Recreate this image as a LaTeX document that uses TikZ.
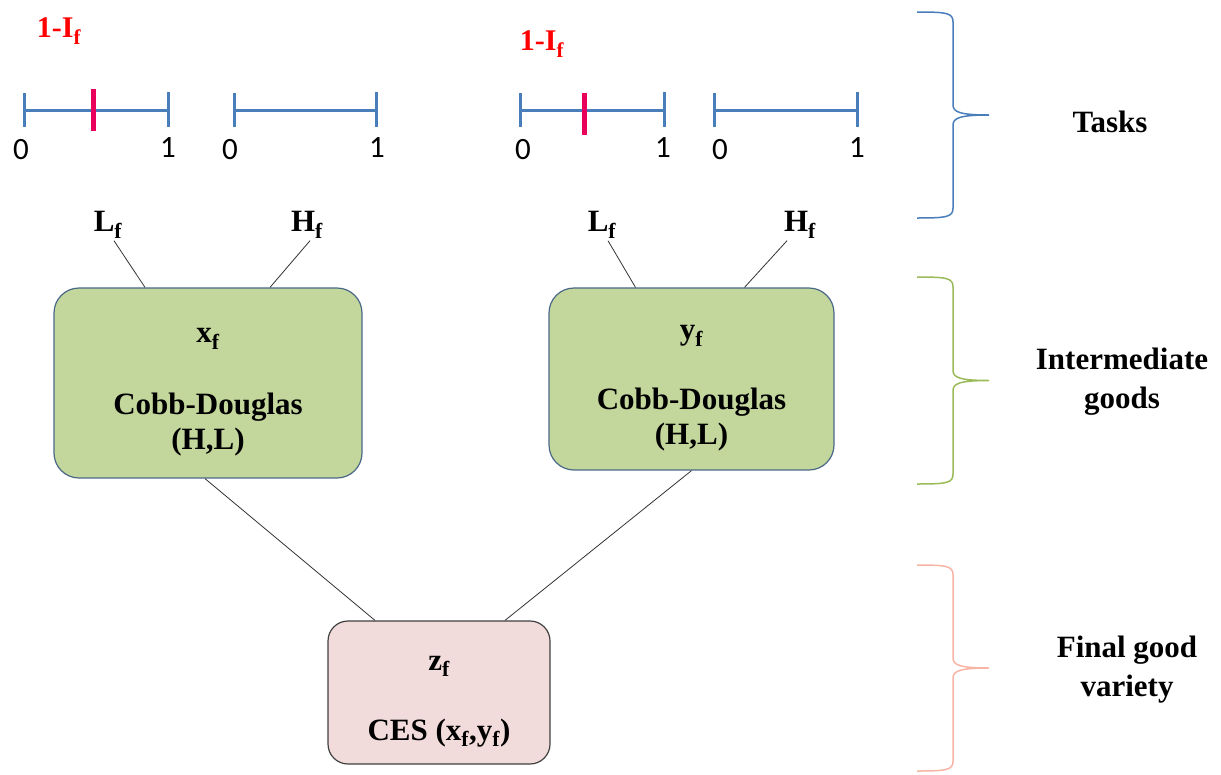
\documentclass[tikz,border=0pt]{standalone}
\usepackage{fontspec}
\setmainfont{Liberation Serif}
\newfontfamily\digitfont{Carlito}
\usetikzlibrary{positioning}
\definecolor{taskBlue}{RGB}{74,126,187}
\definecolor{cutRed}{RGB}{232,0,90}
\definecolor{boxGreen}{RGB}{195,214,155}
\definecolor{boxEdge}{RGB}{74,105,135}
\definecolor{boxPink}{RGB}{242,220,219}
\definecolor{braceGreen}{RGB}{155,187,89}
\definecolor{bracePink}{RGB}{248,180,165}

\begin{document}
\begin{tikzpicture}[x=1pt, y=-1pt, font=\bfseries\fontsize{31}{35}\selectfont]
    \tikzstyle{goodbox} = [draw=boxEdge, fill=boxGreen, rounded corners=25pt, line width=1.2pt]
    \tikzstyle{finalbox} = [draw=black!75, fill=boxPink, rounded corners=20pt, line width=1.2pt]
    \tikzstyle{boxtext} = [align=center]
    \tikzstyle{factor} = [inner sep=2pt]
    \tikzstyle{level} = [align=center, font=\bfseries\fontsize{31}{39}\selectfont]
    \tikzstyle{endpoint} = [font=\digitfont\fontsize{31}{36}\selectfont]
    \tikzstyle{share} = [text=red, font=\bfseries\fontsize{30}{34}\selectfont]
    \tikzstyle{taskline} = [draw=taskBlue, line width=3pt]
    \tikzstyle{cut} = [draw=cutRed, line width=5pt]
    \tikzstyle{line} = [draw, line width=0.8pt, black!80]

    \useasboundingbox (0,0) rectangle (1221,774);

    % task intervals
    \foreach \i/\a/\b/\za/\ob in {1/24/168/21/168, 2/234/376/230/377, 3/520/664/523/663, 4/714/857/720/857} {
        \coordinate (s\i) at (\a,110);
        \coordinate (e\i) at (\b,110);
        \path [taskline] (s\i) -- (e\i);
        \path [taskline] ([yshift=17pt]s\i) -- ([yshift=-17pt]s\i);
        \path [taskline] ([yshift=18pt]e\i) -- ([yshift=-17pt]e\i);
        \node [endpoint] (zero\i) at (\za,150) {0};
        \node [endpoint] (one\i) at (\ob,148) {1};
    }
    \coordinate (cut1) at (93,110);
    \coordinate (cut2) at (584,114);
    \path [cut] ([yshift=21pt]cut1) -- ([yshift=-21pt]cut1);
    \path [cut] ([yshift=21pt]cut2) -- ([yshift=-21pt]cut2);
    \node [share] (share1) at (59,31) {1-I\textsubscript{f}};
    \node [share] (share2) at (542,44) {1-I\textsubscript{f}};

    % intermediate goods
    \node [goodbox, minimum width=308pt, minimum height=190pt] (xbox) at (208,383) {};
    \node [goodbox, minimum width=285pt, minimum height=182pt] (ybox) at (691.5,379) {};
    \node [boxtext] (xtext) at ([yshift=-9pt]xbox.center) {x\textsubscript{f}\\[37pt]Cobb-Douglas\\(H,L)};
    \node [boxtext] (ytext) at ([yshift=-9pt]ybox.center) {y\textsubscript{f}\\[35pt]Cobb-Douglas\\(H,L)};
    \node [factor] (lx) at (108,225) {L\textsubscript{f}};
    \node [factor] (hx) at (307,225) {H\textsubscript{f}};
    \node [factor] (ly) at (602,225) {L\textsubscript{f}};
    \node [factor] (hy) at (800,225) {H\textsubscript{f}};

    % final good
    \node [finalbox, minimum width=222pt, minimum height=143pt] (zbox) at (439,692.5) {};
    \node [boxtext] (ztext) at ([yshift=-9pt]zbox.center) {z\textsubscript{f}\\[35pt]CES (x\textsubscript{f},y\textsubscript{f})};

    \path [line] ([xshift=6pt]lx.south) -- ([xshift=-63pt]xbox.north);
    \path [line] ([xshift=3pt]hx.south) -- ([xshift=62pt]xbox.north);
    \path [line] ([xshift=6pt]ly.south) -- ([xshift=-56pt]ybox.north);
    \path [line] ([xshift=-13pt]hy.south) -- ([xshift=53pt]ybox.north);
    \path [line] ([xshift=-3pt]xbox.south) -- ([xshift=-64pt]zbox.north);
    \path [line] (ybox.south) -- ([xshift=66pt]zbox.north);

    % braces and levels
    \foreach \ya/\yb/\col in {12/218/taskBlue, 277/484/braceGreen, 565/771/bracePink} {
        \pgfmathsetmacro\ym{(\ya+\yb)/2}
        \draw [\col, line width=1.5pt] (917,\ya) .. controls (947,\ya) and (953,\ya+1) .. (953,\ya+10) -- (953,\ym-10) .. controls (953,\ym-3) and (960,\ym) .. (989,\ym) .. controls (960,\ym) and (953,\ym+3) .. (953,\ym+10) -- (953,\yb-10) .. controls (953,\yb-1) and (947,\yb) .. (917,\yb);
    }
    \node [level] (tasks) at (1110,122) {Tasks};
    \node [level] (inter) at (1122,382) {Intermediate\\goods};
    \node [level] (final) at (1127,670) {Final good\\variety};
\end{tikzpicture}
\end{document}
